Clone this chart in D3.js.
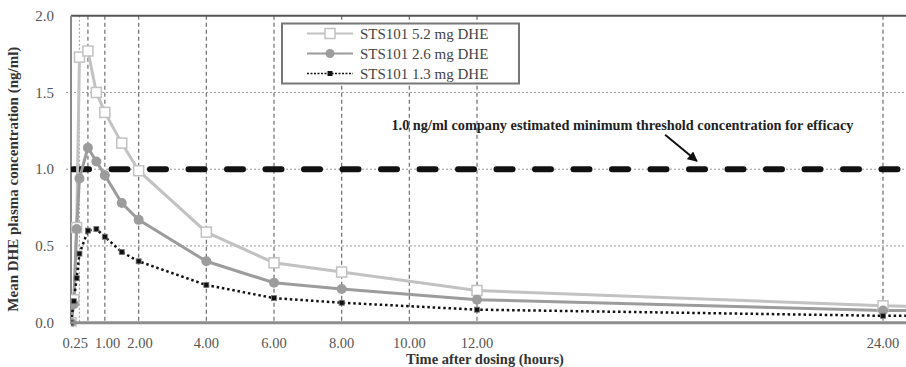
<!DOCTYPE html>
<html>
<head>
<meta charset="utf-8">
<script src="https://cdn.jsdelivr.net/npm/d3@7"></script>
<style>
  body { margin: 0; background: #fff; }
  svg { display: block; font-family: "Liberation Serif", "Times New Roman", serif; }
</style>
</head>
<body>
<svg id="chart"></svg>
<script>
(function() {

// ---------- data ----------
const times = [0, 0.083, 0.167, 0.25, 0.5, 0.75, 1, 1.5, 2, 4, 6, 8, 12, 24, 36];
const dose52 = [0, 0.15, 0.62, 1.73, 1.77, 1.50, 1.37, 1.17, 0.99, 0.59, 0.39, 0.33, 0.21, 0.11, 0.07];
const dose26 = [0, 0.12, 0.61, 0.94, 1.14, 1.05, 0.96, 0.78, 0.67, 0.40, 0.26, 0.22, 0.15, 0.08, 0.06];
const dose13 = [0, 0.14, 0.29, 0.45, 0.60, 0.61, 0.56, 0.46, 0.40, 0.245, 0.16, 0.13, 0.085, 0.045, 0.04];

const seriesNames = ["STS101 5.2 mg DHE", "STS101 2.6 mg DHE", "STS101 1.3 mg DHE"];

const xGrid = [0.25, 0.5, 1, 2, 4, 6, 8, 10, 12, 24];
const xTickVals = [0.25, 1, 2, 4, 6, 8, 10, 12, 24];
const yTickVals = [0, 0.5, 1.0, 1.5, 2.0];
const yGrid = [0.5, 1.0, 1.5];

const threshold = 1.0;
const thresholdLabel = "1.0 ng/ml company estimated minimum threshold concentration for efficacy";

// ---------- layout ----------
const width = 906, height = 367;
const margin = { top: 15.7, left: 71 };

const x = d3.scaleLinear().domain([0, 24]).range([71, 883]);
const y = d3.scaleLinear().domain([0, 2]).range([322.7, 15.7]);

const svg = d3.select("#chart").attr("width", width).attr("height", height);

const defs = svg.append("defs");
defs.append("clipPath").attr("id", "plotclip")
  .append("rect")
    .attr("x", margin.left).attr("y", margin.top - 4)
    .attr("width", width - margin.left).attr("height", y(0) - margin.top + 8);

// horizontal grid
svg.append("g").selectAll("line")
  .data(yGrid)
  .join("line")
    .attr("x1", 66).attr("x2", width)
    .attr("y1", d => y(d)).attr("y2", d => y(d))
    .attr("stroke", "#9a9a9a")
    .attr("stroke-width", 1)
    .attr("stroke-dasharray", "2,2");

// vertical grid
svg.append("g").selectAll("line")
  .data(xGrid)
  .join("line")
    .attr("x1", d => x(d)).attr("x2", d => x(d))
    .attr("y1", y(2)).attr("y2", y(0))
    .attr("stroke", d => d === 0.25 ? "#aaa" : "#6e6e6e")
    .attr("stroke-width", 1.2)
    .attr("stroke-dasharray", d => d === 0.25 ? "2,2" : "4,3");

// frame
svg.append("line")
  .attr("x1", x(0)).attr("x2", width)
  .attr("y1", y(2)).attr("y2", y(2))
  .attr("stroke", "#555").attr("stroke-width", 2);
svg.append("line")
  .attr("x1", x(0)).attr("x2", x(0))
  .attr("y1", y(2)).attr("y2", y(0))
  .attr("stroke", "#8a8a8a").attr("stroke-width", 2);

// y ticks
svg.append("g").selectAll("text")
  .data(yTickVals)
  .join("text")
    .attr("x", 54)
    .attr("y", d => y(d))
    .attr("dy", "0.35em")
    .attr("text-anchor", "end")
    .attr("font-size", "15px")
    .attr("fill", "#555")
    .text(d => d.toFixed(1));

// x ticks (labels nudged apart where they would collide, like Excel does)
const xLabels = svg.append("g").selectAll("text")
  .data(xTickVals)
  .join("text")
    .attr("x", d => x(d))
    .attr("y", 347.5)
    .attr("text-anchor", "middle")
    .attr("font-size", "14.5px")
    .attr("fill", "#555")
    .text(d => d.toFixed(2));

const lab = xLabels.nodes().map(n => ({ node: n, cx: +n.getAttribute("x"), w: n.getComputedTextLength() }));
const gap = 7;
for (let iter = 0; iter < 30; iter++) {
  for (let i = 0; i < lab.length - 1; i++) {
    const a = lab[i], b = lab[i + 1];
    const need = (a.w + b.w) / 2 + gap - (b.cx - a.cx);
    if (need > 0) { a.cx -= need / 2; b.cx += need / 2; }
  }
}
lab.forEach(l => l.node.setAttribute("x", l.cx));

// axis titles
svg.append("text")
  .attr("transform", `translate(18, ${(y(0) + y(2)) / 2 + 10}) rotate(-90)`)
  .attr("text-anchor", "middle")
  .attr("font-size", "15px")
  .attr("font-weight", "bold")
  .attr("fill", "#333")
  .text("Mean DHE plasma concentration (ng/ml)");

svg.append("text")
  .attr("x", 485).attr("y", 364)
  .attr("text-anchor", "middle")
  .attr("font-size", "14.5px")
  .attr("font-weight", "bold")
  .attr("fill", "#333")
  .text("Time after dosing (hours)");

const plot = svg.append("g").attr("clip-path", "url(#plotclip)");

// threshold line
plot.append("line")
  .attr("x1", x(0) + 2).attr("x2", width + 20)
  .attr("y1", y(threshold)).attr("y2", y(threshold))
  .attr("stroke", "#111")
  .attr("stroke-width", 6)
  .attr("stroke-linecap", "round")
  .attr("stroke-dasharray", "16,22.5");

// series
const pts = vals => times.map((t, i) => [t, vals[i]]);
const line = d3.line().x(d => x(d[0])).y(d => y(d[1]));

plot.append("path")
  .attr("d", line(pts(dose52)))
  .attr("fill", "none").attr("stroke", "#c2c2c2").attr("stroke-width", 3);
plot.append("path")
  .attr("d", line(pts(dose26)))
  .attr("fill", "none").attr("stroke", "#9c9c9c").attr("stroke-width", 3);
plot.append("path")
  .attr("d", line(pts(dose13)))
  .attr("fill", "none").attr("stroke", "#111").attr("stroke-width", 2.5)
  .attr("stroke-dasharray", "2.5,2.8");

plot.append("g").selectAll("rect")
  .data(pts(dose52))
  .join("rect")
    .attr("x", d => x(d[0]) - 5).attr("y", d => y(d[1]) - 5)
    .attr("width", 10).attr("height", 10)
    .attr("fill", "#fff").attr("stroke", "#c2c2c2").attr("stroke-width", 1.5);

plot.append("g").selectAll("circle")
  .data(pts(dose26))
  .join("circle")
    .attr("cx", d => x(d[0])).attr("cy", d => y(d[1]))
    .attr("r", 5)
    .attr("fill", "#9c9c9c");

plot.append("g").selectAll("rect")
  .data(pts(dose13))
  .join("rect")
    .attr("x", d => x(d[0]) - 2.5).attr("y", d => y(d[1]) - 2.5)
    .attr("width", 5).attr("height", 5)
    .attr("fill", "#111").attr("stroke", "#777").attr("stroke-width", 0.8);

// bottom axis line
svg.append("line")
  .attr("x1", x(0) - 1).attr("x2", width)
  .attr("y1", y(0)).attr("y2", y(0))
  .attr("stroke", "#8e8e8e").attr("stroke-width", 3);

// annotation
defs.append("marker")
  .attr("id", "arrow")
  .attr("viewBox", "0 0 10 10")
  .attr("refX", 9).attr("refY", 5)
  .attr("markerWidth", 5).attr("markerHeight", 5)
  .attr("orient", "auto")
  .append("path")
    .attr("d", "M0,0L10,5L0,10Z")
    .attr("fill", "#111");

svg.append("line")
  .attr("x1", x(17.56)).attr("y1", y(1.225))
  .attr("x2", x(18.5)).attr("y2", y(1.053))
  .attr("stroke", "#111").attr("stroke-width", 2)
  .attr("marker-end", "url(#arrow)");

svg.append("text")
  .attr("x", x(16.3)).attr("y", y(1.29))
  .attr("dy", "0.35em")
  .attr("text-anchor", "middle")
  .attr("font-size", "14.3px")
  .attr("font-weight", "bold")
  .attr("fill", "#222")
  .text(thresholdLabel);

// legend
const legend = svg.append("g").attr("transform", "translate(282, 23.5)");
legend.append("rect")
  .attr("width", 237).attr("height", 60)
  .attr("fill", "#fff")
  .attr("stroke", "#777").attr("stroke-width", 2);

const rowY = i => 10 + i * 20;
const rows = legend.selectAll("g.row")
  .data(seriesNames)
  .join("g")
    .attr("class", "row")
    .attr("transform", (d, i) => `translate(0, ${rowY(i)})`);

rows.append("line")
  .attr("x1", 25).attr("x2", 71)
  .attr("stroke", (d, i) => ["#c2c2c2", "#9c9c9c", "#111"][i])
  .attr("stroke-width", (d, i) => i === 2 ? 1.5 : 2)
  .attr("stroke-dasharray", (d, i) => i === 2 ? "2,1.5" : null);

rows.filter((d, i) => i === 0).append("rect")
  .attr("x", 43).attr("y", -5).attr("width", 10).attr("height", 10)
  .attr("fill", "#fff").attr("stroke", "#c2c2c2").attr("stroke-width", 1.5);
rows.filter((d, i) => i === 1).append("circle")
  .attr("cx", 48).attr("r", 4.5).attr("fill", "#9c9c9c");
rows.filter((d, i) => i === 2).append("rect")
  .attr("x", 45.5).attr("y", -2.5).attr("width", 5).attr("height", 5)
  .attr("fill", "#111");

rows.append("text")
  .attr("x", 78)
  .attr("dy", "0.35em")
  .attr("font-size", "15px")
  .attr("fill", "#444")
  .text(d => d);

})();
</script>
</body>
</html>
